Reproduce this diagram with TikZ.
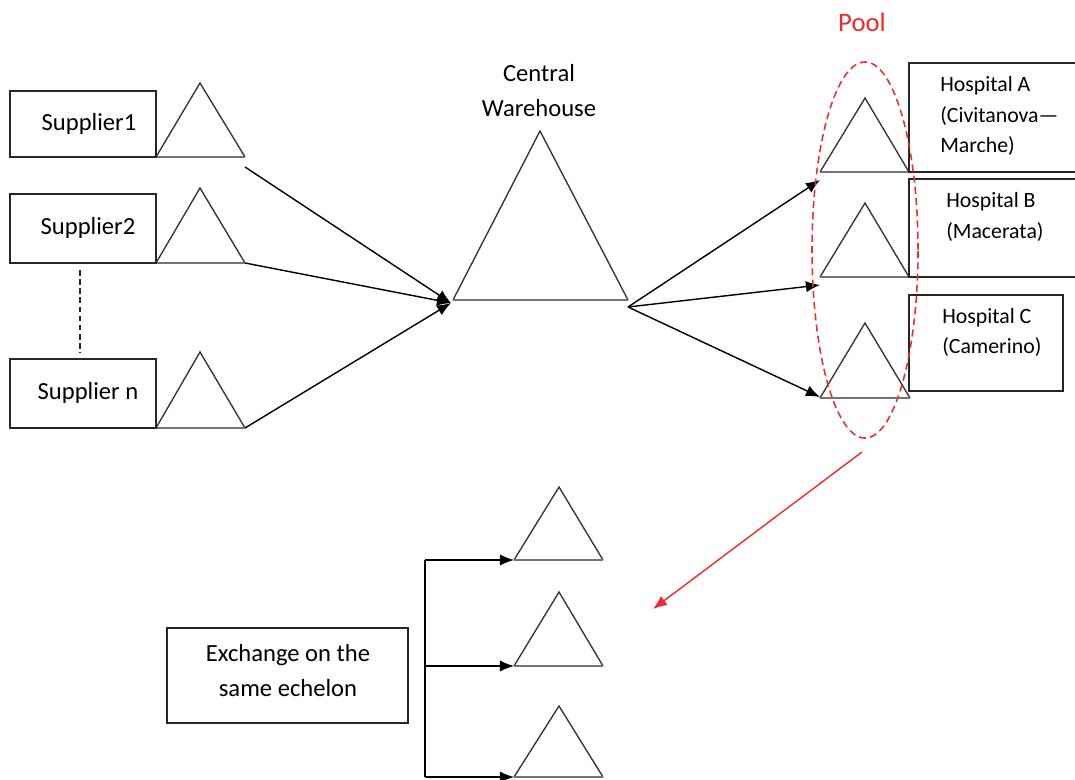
\documentclass[tikz,border=0pt]{standalone}
\usepackage{fontspec}
\setmainfont{Carlito}
\usetikzlibrary{arrows.meta,shapes.geometric,fit}
\definecolor{poolred}{RGB}{235,45,45}
\begin{document}
\begin{tikzpicture}[x=0.025cm,y=-0.025cm,
  box/.style={draw=black!85,line width=1pt,inner sep=0pt},
  side/.style={draw=black!80,line width=0.95pt,line join=miter},
  base/.style={draw=black!55,line width=1.7pt},
  conn/.style={draw=black,line width=1pt,-{Latex[length=10pt,width=8pt]}},
  lbl/.style={font=\fontsize{17.5}{24.8}\selectfont,align=center,inner sep=0pt},
  hlbl/.style={font=\fontsize{15.5}{21.5}\selectfont,align=left,inner sep=0pt,anchor=west},
]
\clip (0,0) rectangle (1075,780);
\fill[white] (0,0) rectangle (1075,780);

% ---------- triangle corner coordinates ----------
\foreach \n/\l/\r/\b/\tx/\ty in {
  t1/156/245/157/200/83,
  t2/156/245/263/200/188,
  tn/156/245/428/200/352,
  cw/453/628/300/540/131,
  hA/820/909/172/865/98,
  hB/820/909/277/865/203,
  hC/820/910/398/865/323,
  e1/514/603/560/559/487,
  e2/514/603/666/559/592,
  e3/514/603/777/559/706}{
  \coordinate (\n l) at (\l,\b);
  \coordinate (\n r) at (\r,\b);
  \coordinate (\n t) at (\tx,\ty);
}
\foreach \n in {t1,t2,tn,cw,hA,hB,hC,e1,e2,e3}{
  \draw[side] (\n l) -- (\n t) -- (\n r);
  \draw[base] (\n l) -- (\n r);
}

% ---------- supplier boxes ----------
\node[box,fit={(10,91) (156,157)}] (s1box) {};
\node[box,fit={(10,194) (156,263)}] (s2box) {};
\node[box,fit={(10,359) (156,428)}] (snbox) {};
\node[lbl] (s1txt) at (89,124) {Supplier1};
\node[lbl] (s2txt) at (88,228) {Supplier2};
\node[lbl] (sntxt) at (88,393) {Supplier n};
\coordinate (d1) at (80,270);
\coordinate (d2) at (80,353);
\draw[black!85,line width=1pt,dash pattern=on 4pt off 2.5pt] (d1) -- (d2);

% ---------- central warehouse ----------
\node[lbl] (cwtxt) at (539,90.5) {Central\\Warehouse};
\coordinate (hub) at (451,303);
\coordinate (t1o) at (245,167);
\draw[conn] (t1o) -- (hub);
\draw[conn] (t2r) -- (hub);
\draw[conn] (tnr) -- (hub);

% ---------- hospitals ----------
\node[box,fit={(909,63) (1085,172)}] (hAbox) {};
\node[box,fit={(909,179) (1085,277)}] (hBbox) {};
\node[box,fit={(909,295) (1063,391)}] (hCbox) {};
\node[hlbl] (hAtxt) at (940,116) {Hospital A\\(Civitanova—\\Marche)};
\node[hlbl] (hBtxt) at (946,217) {Hospital B\\(Macerata)};
\node[hlbl] (hCtxt) at (942,332.5) {Hospital C\\(Camerino)};

\coordinate (cwo) at (628,307);
\coordinate (inA) at (820,180);
\coordinate (inB) at (820,285);
\coordinate (inC) at (820,397);
\draw[conn] (cwo) -- (inA);
\draw[conn] (cwo) -- (inB);
\draw[conn] (cwo) -- (inC);

% ---------- pool ----------
\node[draw=poolred,line width=1.1pt,dash pattern=on 5pt off 3pt,ellipse,
      inner sep=0pt,minimum width=2.65cm,minimum height=9.4cm] (pool) at (865,250) {};
\node[font=\fontsize{19}{22}\selectfont,text=poolred,inner sep=0pt] (pooltxt) at (862,22) {Pool};
\coordinate (poolout) at (862,452);
\coordinate (poolin) at (653,609);
\draw[draw=poolred,line width=1pt,-{Latex[length=10pt,width=8pt]}] (poolout) -- (poolin);

% ---------- exchange on the same echelon ----------
\node[box,fit={(167,628) (408,723)}] (exbox) {};
\node[lbl] (extxt) at (288,670.5) {Exchange on the\\same echelon};
\coordinate (br1) at (425,560);
\coordinate (br2) at (425,666);
\coordinate (br3) at (425,777);
\draw[black,line width=1pt] (br1) -- (br3);
\draw[conn] (br1) -- (e1l);
\draw[conn] (br2) -- (e2l);
\draw[conn] (br3) -- (e3l);
\end{tikzpicture}
\end{document}
